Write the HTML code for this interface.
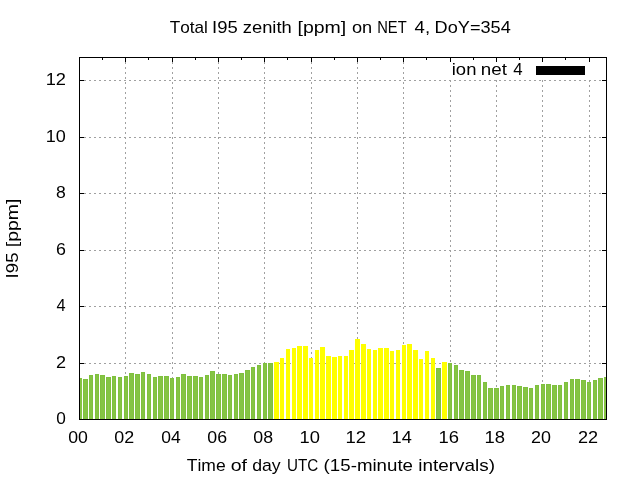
<!DOCTYPE html>
<html><head><meta charset="utf-8"><style>
html,body{margin:0;padding:0;background:#fff;}
body{width:640px;height:480px;overflow:hidden;}
svg{display:block;will-change:transform;}
text{font-family:"Liberation Sans",sans-serif;font-kerning:none;}
</style></head><body>
<svg width="640" height="480" viewBox="0 0 640 480">
<rect width="640" height="480" fill="#fff"/>
<g stroke="#a0a0a0" stroke-width="1" stroke-dasharray="2 3" fill="none"><line x1="79" y1="80.5" x2="606" y2="80.5"/><line x1="79" y1="137.5" x2="606" y2="137.5"/><line x1="79" y1="193.5" x2="606" y2="193.5"/><line x1="79" y1="250.5" x2="606" y2="250.5"/><line x1="79" y1="306.5" x2="606" y2="306.5"/><line x1="79" y1="363.5" x2="606" y2="363.5"/><line x1="125.5" y1="57" x2="125.5" y2="419"/><line x1="172.5" y1="57" x2="172.5" y2="419"/><line x1="218.5" y1="57" x2="218.5" y2="419"/><line x1="264.5" y1="57" x2="264.5" y2="419"/><line x1="311.5" y1="57" x2="311.5" y2="419"/><line x1="357.5" y1="57" x2="357.5" y2="419"/><line x1="403.5" y1="57" x2="403.5" y2="419"/><line x1="450.5" y1="80" x2="450.5" y2="419"/><line x1="496.5" y1="80" x2="496.5" y2="419"/><line x1="542.5" y1="80" x2="542.5" y2="419"/><line x1="589.5" y1="80" x2="589.5" y2="419"/></g>
<g shape-rendering="crispEdges"><rect x="80" y="378" width="2" height="41" fill="#7fc03e"/><rect x="80" y="379" width="2" height="40" fill="#85c444"/><rect x="83" y="379" width="5" height="40" fill="#7fc03e"/><rect x="84" y="380" width="3" height="39" fill="#85c444"/><rect x="89" y="375" width="4" height="44" fill="#7fc03e"/><rect x="90" y="376" width="2" height="43" fill="#85c444"/><rect x="95" y="374" width="4" height="45" fill="#7fc03e"/><rect x="96" y="375" width="2" height="44" fill="#85c444"/><rect x="100" y="375" width="5" height="44" fill="#7fc03e"/><rect x="101" y="376" width="3" height="43" fill="#85c444"/><rect x="106" y="377" width="5" height="42" fill="#7fc03e"/><rect x="107" y="378" width="3" height="41" fill="#85c444"/><rect x="112" y="376" width="4" height="43" fill="#7fc03e"/><rect x="113" y="377" width="2" height="42" fill="#85c444"/><rect x="118" y="377" width="4" height="42" fill="#7fc03e"/><rect x="119" y="378" width="2" height="41" fill="#85c444"/><rect x="124" y="376" width="4" height="43" fill="#7fc03e"/><rect x="125" y="377" width="2" height="42" fill="#85c444"/><rect x="129" y="373" width="5" height="46" fill="#7fc03e"/><rect x="130" y="374" width="3" height="45" fill="#85c444"/><rect x="135" y="374" width="5" height="45" fill="#7fc03e"/><rect x="136" y="375" width="3" height="44" fill="#85c444"/><rect x="141" y="372" width="4" height="47" fill="#7fc03e"/><rect x="142" y="373" width="2" height="46" fill="#85c444"/><rect x="147" y="374" width="4" height="45" fill="#7fc03e"/><rect x="148" y="375" width="2" height="44" fill="#85c444"/><rect x="153" y="377" width="4" height="42" fill="#7fc03e"/><rect x="154" y="378" width="2" height="41" fill="#85c444"/><rect x="158" y="376" width="5" height="43" fill="#7fc03e"/><rect x="159" y="377" width="3" height="42" fill="#85c444"/><rect x="164" y="376" width="5" height="43" fill="#7fc03e"/><rect x="165" y="377" width="3" height="42" fill="#85c444"/><rect x="170" y="378" width="4" height="41" fill="#7fc03e"/><rect x="171" y="379" width="2" height="40" fill="#85c444"/><rect x="176" y="377" width="4" height="42" fill="#7fc03e"/><rect x="177" y="378" width="2" height="41" fill="#85c444"/><rect x="181" y="374" width="5" height="45" fill="#7fc03e"/><rect x="182" y="375" width="3" height="44" fill="#85c444"/><rect x="187" y="376" width="5" height="43" fill="#7fc03e"/><rect x="188" y="377" width="3" height="42" fill="#85c444"/><rect x="193" y="376" width="5" height="43" fill="#7fc03e"/><rect x="194" y="377" width="3" height="42" fill="#85c444"/><rect x="199" y="377" width="4" height="42" fill="#7fc03e"/><rect x="200" y="378" width="2" height="41" fill="#85c444"/><rect x="205" y="375" width="4" height="44" fill="#7fc03e"/><rect x="206" y="376" width="2" height="43" fill="#85c444"/><rect x="210" y="371" width="5" height="48" fill="#7fc03e"/><rect x="211" y="372" width="3" height="47" fill="#85c444"/><rect x="216" y="374" width="5" height="45" fill="#7fc03e"/><rect x="217" y="375" width="3" height="44" fill="#85c444"/><rect x="222" y="374" width="5" height="45" fill="#7fc03e"/><rect x="223" y="375" width="3" height="44" fill="#85c444"/><rect x="228" y="375" width="4" height="44" fill="#7fc03e"/><rect x="229" y="376" width="2" height="43" fill="#85c444"/><rect x="234" y="374" width="4" height="45" fill="#7fc03e"/><rect x="235" y="375" width="2" height="44" fill="#85c444"/><rect x="239" y="373" width="5" height="46" fill="#7fc03e"/><rect x="240" y="374" width="3" height="45" fill="#85c444"/><rect x="245" y="370" width="5" height="49" fill="#7fc03e"/><rect x="246" y="371" width="3" height="48" fill="#85c444"/><rect x="251" y="367" width="4" height="52" fill="#7fc03e"/><rect x="252" y="368" width="2" height="51" fill="#85c444"/><rect x="257" y="365" width="4" height="54" fill="#7fc03e"/><rect x="258" y="366" width="2" height="53" fill="#85c444"/><rect x="263" y="363" width="4" height="56" fill="#7fc03e"/><rect x="264" y="364" width="2" height="55" fill="#85c444"/><rect x="268" y="363" width="5" height="56" fill="#7fc03e"/><rect x="269" y="364" width="3" height="55" fill="#85c444"/><rect x="274" y="362" width="5" height="57" fill="#ffff00"/><rect x="280" y="358" width="4" height="61" fill="#ffff00"/><rect x="286" y="349" width="4" height="70" fill="#ffff00"/><rect x="292" y="348" width="4" height="71" fill="#ffff00"/><rect x="297" y="346" width="5" height="73" fill="#ffff00"/><rect x="303" y="346" width="5" height="73" fill="#ffff00"/><rect x="309" y="358" width="4" height="61" fill="#ffff00"/><rect x="315" y="350" width="4" height="69" fill="#ffff00"/><rect x="320" y="347" width="5" height="72" fill="#ffff00"/><rect x="326" y="356" width="5" height="63" fill="#ffff00"/><rect x="332" y="357" width="5" height="62" fill="#ffff00"/><rect x="338" y="356" width="4" height="63" fill="#ffff00"/><rect x="344" y="356" width="4" height="63" fill="#ffff00"/><rect x="349" y="350" width="5" height="69" fill="#ffff00"/><rect x="355" y="339" width="5" height="80" fill="#ffff00"/><rect x="361" y="344" width="5" height="75" fill="#ffff00"/><rect x="367" y="349" width="4" height="70" fill="#ffff00"/><rect x="373" y="350" width="4" height="69" fill="#ffff00"/><rect x="378" y="348" width="5" height="71" fill="#ffff00"/><rect x="384" y="348" width="5" height="71" fill="#ffff00"/><rect x="390" y="351" width="4" height="68" fill="#ffff00"/><rect x="396" y="350" width="4" height="69" fill="#ffff00"/><rect x="402" y="345" width="4" height="74" fill="#ffff00"/><rect x="407" y="344" width="5" height="75" fill="#ffff00"/><rect x="413" y="350" width="5" height="69" fill="#ffff00"/><rect x="419" y="359" width="4" height="60" fill="#ffff00"/><rect x="425" y="351" width="4" height="68" fill="#ffff00"/><rect x="431" y="358" width="4" height="61" fill="#ffff00"/><rect x="436" y="368" width="5" height="51" fill="#7fc03e"/><rect x="437" y="369" width="3" height="50" fill="#85c444"/><rect x="442" y="362" width="5" height="57" fill="#ffff00"/><rect x="448" y="363" width="4" height="56" fill="#7fc03e"/><rect x="449" y="364" width="2" height="55" fill="#85c444"/><rect x="454" y="365" width="4" height="54" fill="#7fc03e"/><rect x="455" y="366" width="2" height="53" fill="#85c444"/><rect x="459" y="370" width="5" height="49" fill="#7fc03e"/><rect x="460" y="371" width="3" height="48" fill="#85c444"/><rect x="465" y="371" width="5" height="48" fill="#7fc03e"/><rect x="466" y="372" width="3" height="47" fill="#85c444"/><rect x="471" y="375" width="5" height="44" fill="#7fc03e"/><rect x="472" y="376" width="3" height="43" fill="#85c444"/><rect x="477" y="375" width="4" height="44" fill="#7fc03e"/><rect x="478" y="376" width="2" height="43" fill="#85c444"/><rect x="483" y="382" width="4" height="37" fill="#7fc03e"/><rect x="484" y="383" width="2" height="36" fill="#85c444"/><rect x="488" y="388" width="5" height="31" fill="#7fc03e"/><rect x="489" y="389" width="3" height="30" fill="#85c444"/><rect x="494" y="388" width="5" height="31" fill="#7fc03e"/><rect x="495" y="389" width="3" height="30" fill="#85c444"/><rect x="500" y="386" width="4" height="33" fill="#7fc03e"/><rect x="501" y="387" width="2" height="32" fill="#85c444"/><rect x="506" y="385" width="4" height="34" fill="#7fc03e"/><rect x="507" y="386" width="2" height="33" fill="#85c444"/><rect x="512" y="385" width="4" height="34" fill="#7fc03e"/><rect x="513" y="386" width="2" height="33" fill="#85c444"/><rect x="517" y="386" width="5" height="33" fill="#7fc03e"/><rect x="518" y="387" width="3" height="32" fill="#85c444"/><rect x="523" y="387" width="5" height="32" fill="#7fc03e"/><rect x="524" y="388" width="3" height="31" fill="#85c444"/><rect x="529" y="388" width="4" height="31" fill="#7fc03e"/><rect x="530" y="389" width="2" height="30" fill="#85c444"/><rect x="535" y="385" width="4" height="34" fill="#7fc03e"/><rect x="536" y="386" width="2" height="33" fill="#85c444"/><rect x="541" y="384" width="4" height="35" fill="#7fc03e"/><rect x="542" y="385" width="2" height="34" fill="#85c444"/><rect x="546" y="384" width="5" height="35" fill="#7fc03e"/><rect x="547" y="385" width="3" height="34" fill="#85c444"/><rect x="552" y="385" width="5" height="34" fill="#7fc03e"/><rect x="553" y="386" width="3" height="33" fill="#85c444"/><rect x="558" y="385" width="4" height="34" fill="#7fc03e"/><rect x="559" y="386" width="2" height="33" fill="#85c444"/><rect x="564" y="382" width="4" height="37" fill="#7fc03e"/><rect x="565" y="383" width="2" height="36" fill="#85c444"/><rect x="570" y="379" width="4" height="40" fill="#7fc03e"/><rect x="571" y="380" width="2" height="39" fill="#85c444"/><rect x="575" y="379" width="5" height="40" fill="#7fc03e"/><rect x="576" y="380" width="3" height="39" fill="#85c444"/><rect x="581" y="380" width="5" height="39" fill="#7fc03e"/><rect x="582" y="381" width="3" height="38" fill="#85c444"/><rect x="587" y="382" width="4" height="37" fill="#7fc03e"/><rect x="588" y="383" width="2" height="36" fill="#85c444"/><rect x="593" y="380" width="4" height="39" fill="#7fc03e"/><rect x="594" y="381" width="2" height="38" fill="#85c444"/><rect x="598" y="378" width="5" height="41" fill="#7fc03e"/><rect x="599" y="379" width="3" height="40" fill="#85c444"/><rect x="604" y="377" width="2" height="42" fill="#7fc03e"/><rect x="604" y="378" width="2" height="41" fill="#85c444"/></g>
<g stroke="#000" stroke-width="1" fill="none" shape-rendering="crispEdges"><rect x="79.5" y="57.5" width="527" height="362" fill="none" stroke="#000"/><line x1="80" y1="80.5" x2="84" y2="80.5"/><line x1="602" y1="80.5" x2="606" y2="80.5"/><line x1="80" y1="137.5" x2="84" y2="137.5"/><line x1="602" y1="137.5" x2="606" y2="137.5"/><line x1="80" y1="193.5" x2="84" y2="193.5"/><line x1="602" y1="193.5" x2="606" y2="193.5"/><line x1="80" y1="250.5" x2="84" y2="250.5"/><line x1="602" y1="250.5" x2="606" y2="250.5"/><line x1="80" y1="306.5" x2="84" y2="306.5"/><line x1="602" y1="306.5" x2="606" y2="306.5"/><line x1="80" y1="363.5" x2="84" y2="363.5"/><line x1="602" y1="363.5" x2="606" y2="363.5"/><line x1="125.5" y1="58" x2="125.5" y2="62"/><line x1="172.5" y1="58" x2="172.5" y2="62"/><line x1="218.5" y1="58" x2="218.5" y2="62"/><line x1="264.5" y1="58" x2="264.5" y2="62"/><line x1="311.5" y1="58" x2="311.5" y2="62"/><line x1="357.5" y1="58" x2="357.5" y2="62"/><line x1="403.5" y1="58" x2="403.5" y2="62"/><line x1="450.5" y1="58" x2="450.5" y2="62"/><line x1="496.5" y1="58" x2="496.5" y2="62"/><line x1="542.5" y1="58" x2="542.5" y2="62"/><line x1="589.5" y1="58" x2="589.5" y2="62"/><line x1="102.5" y1="58" x2="102.5" y2="60"/><line x1="148.5" y1="58" x2="148.5" y2="60"/><line x1="195.5" y1="58" x2="195.5" y2="60"/><line x1="241.5" y1="58" x2="241.5" y2="60"/><line x1="287.5" y1="58" x2="287.5" y2="60"/><line x1="334.5" y1="58" x2="334.5" y2="60"/><line x1="380.5" y1="58" x2="380.5" y2="60"/><line x1="426.5" y1="58" x2="426.5" y2="60"/><line x1="473.5" y1="58" x2="473.5" y2="60"/><line x1="519.5" y1="58" x2="519.5" y2="60"/><line x1="565.5" y1="58" x2="565.5" y2="60"/></g>
<rect x="536" y="66" width="49" height="9" fill="#000"/>
<g fill="#000"><text x="169.81" y="33" font-size="17" textLength="38.13" lengthAdjust="spacingAndGlyphs">Total</text><text x="212.10" y="33" font-size="17" textLength="25.68" lengthAdjust="spacingAndGlyphs">I95</text><text x="242.76" y="33" font-size="17" textLength="49.04" lengthAdjust="spacingAndGlyphs">zenith</text><text x="297.51" y="33" font-size="17" textLength="48.78" lengthAdjust="spacingAndGlyphs">[ppm]</text><text x="351.94" y="33" font-size="17" textLength="20.25" lengthAdjust="spacingAndGlyphs">on</text><text x="377.19" y="33" font-size="17" textLength="29.45" lengthAdjust="spacingAndGlyphs">NET</text><text x="414.57" y="33" font-size="17" textLength="15.50" lengthAdjust="spacingAndGlyphs">4,</text><text x="434.61" y="33" font-size="17" textLength="76.12" lengthAdjust="spacingAndGlyphs">DoY=354</text><text x="186.81" y="470.75" font-size="17" textLength="38.87" lengthAdjust="spacingAndGlyphs">Time</text><text x="230.68" y="470.75" font-size="17" textLength="16.29" lengthAdjust="spacingAndGlyphs">of</text><text x="252.16" y="470.75" font-size="17" textLength="28.48" lengthAdjust="spacingAndGlyphs">day</text><text x="286.93" y="470.75" font-size="17" textLength="31.25" lengthAdjust="spacingAndGlyphs">UTC</text><text x="323.64" y="470.75" font-size="17" textLength="89.39" lengthAdjust="spacingAndGlyphs">(15-minute</text><text x="418.23" y="470.75" font-size="17" textLength="76.74" lengthAdjust="spacingAndGlyphs">intervals)</text><text x="451.77" y="75" font-size="17" textLength="24.63" lengthAdjust="spacingAndGlyphs">ion</text><text x="480.75" y="75" font-size="17" textLength="26.14" lengthAdjust="spacingAndGlyphs">net</text><text x="513.21" y="75" font-size="17" textLength="9.38" lengthAdjust="spacingAndGlyphs">4</text><g transform="translate(18,0) rotate(-90)"><text x="-278.42" y="0" font-size="17" textLength="25.90" lengthAdjust="spacingAndGlyphs">I95</text><text x="-247.18" y="0" font-size="17" textLength="48.57" lengthAdjust="spacingAndGlyphs">[ppm]</text></g><text x="45.71" y="85" font-size="17" textLength="20.31" lengthAdjust="spacingAndGlyphs">12</text><text x="45.72" y="142" font-size="17" textLength="20.08" lengthAdjust="spacingAndGlyphs">10</text><text x="56.09" y="198" font-size="17" textLength="9.78" lengthAdjust="spacingAndGlyphs">8</text><text x="55.94" y="255" font-size="17" textLength="9.94" lengthAdjust="spacingAndGlyphs">6</text><text x="56.47" y="311" font-size="17" textLength="9.11" lengthAdjust="spacingAndGlyphs">4</text><text x="55.94" y="368" font-size="17" textLength="10.07" lengthAdjust="spacingAndGlyphs">2</text><text x="56.18" y="424" font-size="17" textLength="9.60" lengthAdjust="spacingAndGlyphs">0</text><text x="68.26" y="443" font-size="17" textLength="19.68" lengthAdjust="spacingAndGlyphs">00</text><text x="114.25" y="443" font-size="17" textLength="19.90" lengthAdjust="spacingAndGlyphs">02</text><text x="161.27" y="443" font-size="17" textLength="19.50" lengthAdjust="spacingAndGlyphs">04</text><text x="207.26" y="443" font-size="17" textLength="19.78" lengthAdjust="spacingAndGlyphs">06</text><text x="253.26" y="443" font-size="17" textLength="19.77" lengthAdjust="spacingAndGlyphs">08</text><text x="299.55" y="443" font-size="17" textLength="20.41" lengthAdjust="spacingAndGlyphs">10</text><text x="345.54" y="443" font-size="17" textLength="20.65" lengthAdjust="spacingAndGlyphs">12</text><text x="391.57" y="443" font-size="17" textLength="20.22" lengthAdjust="spacingAndGlyphs">14</text><text x="438.55" y="443" font-size="17" textLength="20.52" lengthAdjust="spacingAndGlyphs">16</text><text x="484.55" y="443" font-size="17" textLength="20.51" lengthAdjust="spacingAndGlyphs">18</text><text x="531.05" y="443" font-size="17" textLength="19.90" lengthAdjust="spacingAndGlyphs">20</text><text x="578.04" y="443" font-size="17" textLength="20.12" lengthAdjust="spacingAndGlyphs">22</text></g>
</svg>
</body></html>
